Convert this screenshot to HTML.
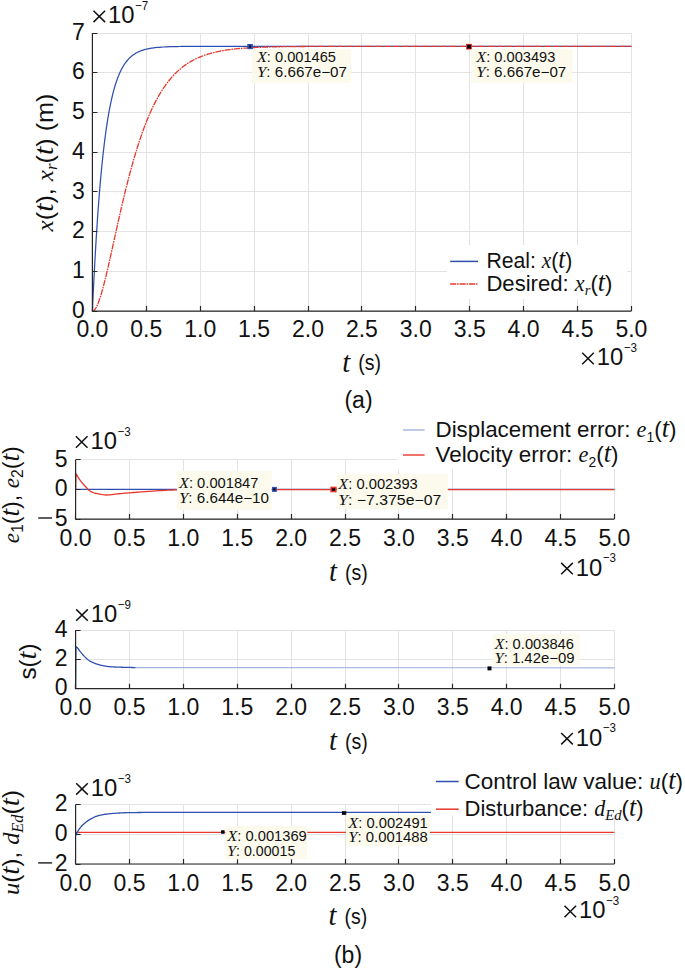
<!DOCTYPE html>
<html><head><meta charset="utf-8"><style>html,body{margin:0;padding:0;background:#fff;width:685px;height:968px;overflow:hidden}</style></head>
<body>
<svg width="685" height="968" viewBox="0 0 685 968" style="position:absolute;left:0;top:0">
<rect width="685" height="968" fill="#fff"/>
<path d="M92.5 33.1V311.1M146.5 33.1V311.1M200.5 33.1V311.1M254.5 33.1V311.1M308.5 33.1V311.1M361.5 33.1V311.1M415.5 33.1V311.1M469.5 33.1V311.1M523.5 33.1V311.1M577.5 33.1V311.1M631.5 33.1V311.1M92.4 311.5H631.4M92.4 271.5H631.4M92.4 231.5H631.4M92.4 191.5H631.4M92.4 152.5H631.4M92.4 112.5H631.4M92.4 72.5H631.4M92.4 33.5H631.4" stroke="#e3e3e3" stroke-width="1" fill="none"/>
<path d="M92.4 311.1 L92.8 302.29 L93.21 293.77 L93.61 285.54 L94.01 277.58 L94.41 269.89 L94.82 262.45 L95.22 255.26 L95.62 248.3 L96.02 241.58 L96.43 235.09 L96.83 228.81 L97.23 222.74 L97.63 216.87 L98.04 211.19 L98.44 205.71 L98.84 200.4 L99.25 195.28 L99.65 190.32 L100.05 185.53 L100.45 180.9 L100.86 176.42 L101.26 172.09 L101.66 167.91 L102.06 163.86 L102.47 159.95 L102.87 156.17 L103.27 152.51 L103.68 148.98 L104.08 145.57 L104.48 142.26 L104.88 139.07 L105.29 135.99 L105.69 133 L106.09 130.12 L106.49 127.33 L106.9 124.63 L107.3 122.03 L107.7 119.51 L108.1 117.08 L108.51 114.72 L108.91 112.45 L109.31 110.25 L109.72 108.12 L110.12 106.06 L110.52 104.07 L110.92 102.15 L111.33 100.3 L111.73 98.5 L112.13 96.76 L112.53 95.09 L112.94 93.46 L113.34 91.89 L113.74 90.38 L114.14 88.91 L114.55 87.5 L114.95 86.13 L115.35 84.8 L115.76 83.52 L116.16 82.28 L116.56 81.09 L116.96 79.93 L117.37 78.81 L117.77 77.73 L118.17 76.69 L118.57 75.68 L118.98 74.7 L119.38 73.76 L119.78 72.84 L120.19 71.96 L120.59 71.11 L120.99 70.28 L121.39 69.49 L121.8 68.72 L122.2 67.97 L122.6 67.25 L123 66.55 L123.41 65.88 L123.81 65.23 L124.21 64.6 L124.61 63.99 L125.02 63.41 L125.42 62.84 L125.82 62.29 L126.23 61.76 L126.63 61.24 L127.03 60.75 L127.43 60.27 L127.84 59.8 L128.24 59.35 L128.64 58.92 L129.04 58.5 L129.45 58.1 L129.85 57.7 L130.25 57.33 L130.66 56.96 L131.06 56.61 L131.46 56.26 L131.86 55.93 L132.27 55.61 L132.67 55.3 L133.07 55.01 L133.47 54.72 L133.88 54.44 L134.28 54.17 L134.68 53.91 L135.08 53.65 L135.49 53.41 L135.89 53.17 L136.29 52.95 L136.7 52.73 L137.1 52.51 L137.5 52.31 L137.9 52.11 L138.31 51.92 L138.71 51.73 L139.11 51.55 L139.51 51.38 L139.92 51.21 L140.32 51.05 L140.72 50.89 L141.12 50.74 L141.53 50.59 L141.93 50.45 L142.33 50.31 L142.74 50.18 L143.14 50.05 L143.54 49.93 L143.94 49.81 L144.35 49.69 L144.75 49.58 L145.15 49.47 L145.55 49.37 L145.96 49.26 L146.36 49.17 L146.76 49.07 L147.17 48.98 L147.57 48.89 L147.97 48.81 L148.37 48.72 L148.78 48.64 L149.18 48.57 L149.58 48.49 L149.98 48.42 L150.39 48.35 L150.79 48.28 L151.19 48.22 L151.59 48.16 L152 48.09 L152.4 48.04 L153.4 47.9 L155.41 47.65 L157.42 47.45 L159.43 47.27 L161.44 47.13 L163.45 47 L165.46 46.9 L167.47 46.81 L169.48 46.73 L171.49 46.67 L173.5 46.62 L175.51 46.57 L177.52 46.53 L179.53 46.5 L181.54 46.47 L183.55 46.45 L185.56 46.43 L187.57 46.41 L189.58 46.4 L191.59 46.39 L193.6 46.38 L195.61 46.37 L197.62 46.36 L199.63 46.36 L201.64 46.35 L203.65 46.35 L205.66 46.34 L207.67 46.34 L209.68 46.34 L211.69 46.34 L213.7 46.33 L215.71 46.33 L217.72 46.33 L219.73 46.33 L221.74 46.33 L223.75 46.33 L225.76 46.33 L227.77 46.33 L229.78 46.33 L231.79 46.33 L233.8 46.33 L235.81 46.33 L237.82 46.33 L239.83 46.33 L241.84 46.33 L243.85 46.33 L245.86 46.33 L247.87 46.33 L249.88 46.33 L251.89 46.33 L253.91 46.33 L255.92 46.33 L257.93 46.33 L259.94 46.33 L261.95 46.33 L263.96 46.33 L265.97 46.32 L267.98 46.32 L269.99 46.32 L272 46.32 L274.01 46.32 L276.02 46.32 L278.03 46.32 L280.04 46.32 L282.05 46.32 L284.06 46.32 L286.07 46.32 L288.08 46.32 L290.09 46.32 L292.1 46.32 L294.11 46.32 L296.12 46.32 L298.13 46.32 L300.14 46.32 L302.15 46.32 L304.16 46.32 L306.17 46.32 L308.18 46.32 L310.19 46.32 L312.2 46.32 L314.21 46.32 L316.22 46.32 L318.23 46.32 L320.24 46.32 L322.25 46.32 L324.26 46.32 L326.27 46.32 L328.28 46.32 L330.29 46.32 L332.3 46.32 L334.31 46.32 L336.32 46.32 L338.33 46.32 L340.34 46.32 L342.35 46.32 L344.36 46.32 L346.37 46.32 L348.38 46.32 L350.39 46.32 L352.4 46.32 L631.4 46.32" stroke="#2f4fb0" stroke-width="1.25" fill="none" stroke-linejoin="round" />
<path d="M92.4 311.1 L92.8 311.05 L93.21 310.92 L93.61 310.7 L94.01 310.39 L94.41 310.01 L94.82 309.55 L95.22 309.01 L95.62 308.41 L96.02 307.74 L96.43 307 L96.83 306.2 L97.23 305.33 L97.63 304.42 L98.04 303.44 L98.44 302.42 L98.84 301.34 L99.25 300.21 L99.65 299.04 L100.05 297.83 L100.45 296.57 L100.86 295.27 L101.26 293.94 L101.66 292.57 L102.06 291.16 L102.47 289.72 L102.87 288.26 L103.27 286.76 L103.68 285.23 L104.08 283.68 L104.48 282.1 L104.88 280.5 L105.29 278.88 L105.69 277.24 L106.09 275.58 L106.49 273.9 L106.9 272.2 L107.3 270.49 L107.7 268.77 L108.1 267.03 L108.51 265.28 L108.91 263.51 L109.31 261.74 L109.72 259.96 L110.12 258.17 L110.52 256.38 L110.92 254.57 L111.33 252.77 L111.73 250.95 L112.13 249.14 L112.53 247.32 L112.94 245.5 L113.34 243.67 L113.74 241.85 L114.14 240.03 L114.55 238.2 L114.95 236.38 L115.35 234.56 L115.76 232.74 L116.16 230.92 L116.56 229.11 L116.96 227.3 L117.37 225.49 L117.77 223.69 L118.17 221.9 L118.57 220.11 L118.98 218.32 L119.38 216.55 L119.78 214.78 L120.19 213.01 L120.59 211.26 L120.99 209.51 L121.39 207.77 L121.8 206.03 L122.2 204.31 L122.6 202.6 L123 200.89 L123.41 199.2 L123.81 197.51 L124.21 195.83 L124.61 194.17 L125.02 192.51 L125.42 190.87 L125.82 189.23 L126.23 187.61 L126.63 186 L127.03 184.4 L127.43 182.81 L127.84 181.23 L128.24 179.66 L128.64 178.11 L129.04 176.56 L129.45 175.03 L129.85 173.51 L130.25 172.01 L130.66 170.51 L131.06 169.03 L131.46 167.56 L131.86 166.1 L132.27 164.65 L132.67 163.22 L133.07 161.8 L133.47 160.39 L133.88 158.99 L134.28 157.61 L134.68 156.24 L135.08 154.88 L135.49 153.53 L135.89 152.2 L136.29 150.88 L136.7 149.57 L137.1 148.28 L137.5 146.99 L137.9 145.72 L138.31 144.47 L138.71 143.22 L139.11 141.99 L139.51 140.77 L139.92 139.56 L140.32 138.36 L140.72 137.18 L141.12 136.01 L141.53 134.85 L141.93 133.7 L142.33 132.56 L142.74 131.44 L143.14 130.33 L143.54 129.23 L143.94 128.14 L144.35 127.07 L144.75 126 L145.15 124.95 L145.55 123.91 L145.96 122.88 L146.36 121.87 L146.76 120.86 L147.17 119.86 L147.57 118.88 L147.97 117.91 L148.37 116.95 L148.78 116 L149.18 115.06 L149.58 114.13 L149.98 113.21 L150.39 112.31 L150.79 111.41 L151.19 110.52 L151.59 109.65 L152 108.78 L152.4 107.93 L153.4 105.85 L155.41 101.86 L157.42 98.11 L159.43 94.58 L161.44 91.27 L163.45 88.17 L165.46 85.26 L167.47 82.54 L169.48 79.99 L171.49 77.61 L173.5 75.39 L175.51 73.31 L177.52 71.38 L179.53 69.57 L181.54 67.89 L183.55 66.32 L185.56 64.86 L187.57 63.5 L189.58 62.24 L191.59 61.06 L193.6 59.97 L195.61 58.96 L197.62 58.02 L199.63 57.14 L201.64 56.33 L203.65 55.58 L205.66 54.88 L207.67 54.23 L209.68 53.63 L211.69 53.08 L213.7 52.56 L215.71 52.08 L217.72 51.64 L219.73 51.23 L221.74 50.86 L223.75 50.51 L225.76 50.18 L227.77 49.89 L229.78 49.61 L231.79 49.35 L233.8 49.12 L235.81 48.9 L237.82 48.7 L239.83 48.51 L241.84 48.34 L243.85 48.18 L245.86 48.04 L247.87 47.9 L249.88 47.78 L251.89 47.66 L253.91 47.56 L255.92 47.46 L257.93 47.37 L259.94 47.29 L261.95 47.21 L263.96 47.14 L265.97 47.07 L267.98 47.01 L269.99 46.96 L272 46.91 L274.01 46.86 L276.02 46.82 L278.03 46.78 L280.04 46.74 L282.05 46.71 L284.06 46.68 L286.07 46.65 L288.08 46.62 L290.09 46.6 L292.1 46.58 L294.11 46.56 L296.12 46.54 L298.13 46.52 L300.14 46.5 L302.15 46.49 L304.16 46.48 L306.17 46.46 L308.18 46.45 L310.19 46.44 L312.2 46.43 L314.21 46.42 L316.22 46.42 L318.23 46.41 L320.24 46.4 L322.25 46.4 L324.26 46.39 L326.27 46.38 L328.28 46.38 L330.29 46.37 L332.3 46.37 L334.31 46.37 L336.32 46.36 L338.33 46.36 L340.34 46.36 L342.35 46.35 L344.36 46.35 L346.37 46.35 L348.38 46.35 L350.39 46.35 L352.4 46.34 L631.4 46.32" stroke="#e8372b" stroke-width="1.3" fill="none" stroke-linejoin="round" stroke-dasharray="6 0.9 1.6 0.9"/>
<path d="M92.4 33.1V311.1H631.4M92.5 311.1v-5M146.5 311.1v-5M200.5 311.1v-5M254.5 311.1v-5M308.5 311.1v-5M361.5 311.1v-5M415.5 311.1v-5M469.5 311.1v-5M523.5 311.1v-5M577.5 311.1v-5M631.5 311.1v-5M92.4 311.5h5M92.4 271.5h5M92.4 231.5h5M92.4 191.5h5M92.4 152.5h5M92.4 112.5h5M92.4 72.5h5M92.4 33.5h5" stroke="#262626" stroke-width="1.2" fill="none"/>
<text x="92.4" y="336.8" font-size="23" text-anchor="middle" font-family='"Liberation Sans", sans-serif' fill="#111" >0.0</text>
<text x="146.3" y="336.8" font-size="23" text-anchor="middle" font-family='"Liberation Sans", sans-serif' fill="#111" >0.5</text>
<text x="200.2" y="336.8" font-size="23" text-anchor="middle" font-family='"Liberation Sans", sans-serif' fill="#111" >1.0</text>
<text x="254.1" y="336.8" font-size="23" text-anchor="middle" font-family='"Liberation Sans", sans-serif' fill="#111" >1.5</text>
<text x="308" y="336.8" font-size="23" text-anchor="middle" font-family='"Liberation Sans", sans-serif' fill="#111" >2.0</text>
<text x="361.9" y="336.8" font-size="23" text-anchor="middle" font-family='"Liberation Sans", sans-serif' fill="#111" >2.5</text>
<text x="415.8" y="336.8" font-size="23" text-anchor="middle" font-family='"Liberation Sans", sans-serif' fill="#111" >3.0</text>
<text x="469.7" y="336.8" font-size="23" text-anchor="middle" font-family='"Liberation Sans", sans-serif' fill="#111" >3.5</text>
<text x="523.6" y="336.8" font-size="23" text-anchor="middle" font-family='"Liberation Sans", sans-serif' fill="#111" >4.0</text>
<text x="577.5" y="336.8" font-size="23" text-anchor="middle" font-family='"Liberation Sans", sans-serif' fill="#111" >4.5</text>
<text x="631.4" y="336.8" font-size="23" text-anchor="middle" font-family='"Liberation Sans", sans-serif' fill="#111" >5.0</text>
<text x="84.8" y="317.7" font-size="23" text-anchor="end" font-family='"Liberation Sans", sans-serif' fill="#111" >0</text>
<text x="84.8" y="277.99" font-size="23" text-anchor="end" font-family='"Liberation Sans", sans-serif' fill="#111" >1</text>
<text x="84.8" y="238.27" font-size="23" text-anchor="end" font-family='"Liberation Sans", sans-serif' fill="#111" >2</text>
<text x="84.8" y="198.56" font-size="23" text-anchor="end" font-family='"Liberation Sans", sans-serif' fill="#111" >3</text>
<text x="84.8" y="158.84" font-size="23" text-anchor="end" font-family='"Liberation Sans", sans-serif' fill="#111" >4</text>
<text x="84.8" y="119.13" font-size="23" text-anchor="end" font-family='"Liberation Sans", sans-serif' fill="#111" >5</text>
<text x="84.8" y="79.41" font-size="23" text-anchor="end" font-family='"Liberation Sans", sans-serif' fill="#111" >6</text>
<text x="84.8" y="39.7" font-size="23" text-anchor="end" font-family='"Liberation Sans", sans-serif' fill="#111" >7</text>
<path d="M93.5 10.7L105.1 22.1M105.1 10.7L93.5 22.1" stroke="#111" stroke-width="1.5"/>
<text x="108.1" y="23.3" font-size="23" font-family='"Liberation Sans", sans-serif' fill="#111" textLength="26.5" lengthAdjust="spacingAndGlyphs">10</text>
<text x="135.1" y="10.1" font-size="12.6" font-family='"Liberation Sans", sans-serif' fill="#111" textLength="13.2" lengthAdjust="spacingAndGlyphs">−7</text>
<path d="M582.2 352.8L593.8 364.2M593.8 352.8L582.2 364.2" stroke="#111" stroke-width="1.5"/>
<text x="596.8" y="365.4" font-size="23" font-family='"Liberation Sans", sans-serif' fill="#111" textLength="26.5" lengthAdjust="spacingAndGlyphs">10</text>
<text x="623.8" y="352.2" font-size="12.6" font-family='"Liberation Sans", sans-serif' fill="#111" textLength="13.2" lengthAdjust="spacingAndGlyphs">−3</text>
<text x="342.3" y="371.7" font-size="28.5" font-family='"Liberation Serif", serif' font-style="italic" fill="#111">t</text>
<text x="358.2" y="370.4" font-size="22.5" font-family='"Liberation Sans", sans-serif' fill="#111" textLength="22.8" lengthAdjust="spacingAndGlyphs">(s)</text>
<text x="358.5" y="408" font-size="23" text-anchor="middle" font-family='"Liberation Sans", sans-serif' fill="#111" >(a)</text>
<rect x="447" y="245" width="180" height="54" fill="#fff"/>
<path d="M450.2 261.4H478" stroke="#2f4fb0" stroke-width="1.5"/>
<path d="M450.2 284H478" stroke="#e8372b" stroke-width="1.3" stroke-dasharray="6 0.9 1.6 0.9"/>
<text x="486.4" y="267.5" font-size="22.5" text-anchor="start" font-family='"Liberation Sans", sans-serif' fill="#111" textLength="86" lengthAdjust="spacingAndGlyphs">Real: <tspan font-family='"Liberation Serif", serif' font-style="italic">x</tspan>(<tspan font-family='"Liberation Serif", serif' font-style="italic" font-size="118%">t</tspan>)</text>
<text x="486.4" y="290.9" font-size="22.5" text-anchor="start" font-family='"Liberation Sans", sans-serif' fill="#111" textLength="126" lengthAdjust="spacingAndGlyphs">Desired: <tspan font-family='"Liberation Serif", serif' font-style="italic">x</tspan><tspan font-size="15" dy="4" font-family='"Liberation Serif", serif' font-style="italic">r</tspan><tspan dy="-4">(</tspan><tspan font-family='"Liberation Serif", serif' font-style="italic" font-size="118%">t</tspan>)</text>
<text transform="translate(52.5,162.5) rotate(-90)" font-size="24" text-anchor="middle" font-family='"Liberation Sans", sans-serif' fill="#111" textLength="138" lengthAdjust="spacingAndGlyphs"><tspan font-family='"Liberation Serif", serif' font-style="italic">x</tspan>(<tspan font-family='"Liberation Serif", serif' font-style="italic" font-size="118%">t</tspan>), <tspan font-family='"Liberation Serif", serif' font-style="italic">x</tspan><tspan font-size="16" dy="4" font-family='"Liberation Serif", serif' font-style="italic">r</tspan><tspan dy="-4">(</tspan><tspan font-family='"Liberation Serif", serif' font-style="italic" font-size="118%">t</tspan>) (m)</text>
<rect x="247.3" y="44" width="5.6" height="5.2" fill="#2f4fb0"/>
<rect x="249.3" y="45.3" width="1.6" height="2.6" fill="#000"/>
<rect x="251.8" y="49.1" width="99.4" height="33.7" fill="#fcfaec"/>
<text x="257" y="62.1" font-size="14" font-family='"Liberation Sans", sans-serif' fill="#111" textLength="79" lengthAdjust="spacingAndGlyphs"><tspan font-size="15.5"><tspan font-family='"Liberation Serif", serif' font-style="italic">X</tspan></tspan>: 0.001465</text>
<text x="257" y="77.4" font-size="14" font-family='"Liberation Sans", sans-serif' fill="#111" textLength="90" lengthAdjust="spacingAndGlyphs"><tspan font-size="15.5"><tspan font-family='"Liberation Serif", serif' font-style="italic">Y</tspan></tspan>: 6.667e−07</text>
<rect x="466" y="43.85" width="6" height="5.7" fill="#e8372b"/>
<rect x="467" y="44.8" width="4" height="3.8" fill="#000"/>
<rect x="471.1" y="49.1" width="101.3" height="33.7" fill="#fcfaec"/>
<text x="476.3" y="62.1" font-size="14" font-family='"Liberation Sans", sans-serif' fill="#111" textLength="79" lengthAdjust="spacingAndGlyphs"><tspan font-size="15.5"><tspan font-family='"Liberation Serif", serif' font-style="italic">X</tspan></tspan>: 0.003493</text>
<text x="476.3" y="77.4" font-size="14" font-family='"Liberation Sans", sans-serif' fill="#111" textLength="90" lengthAdjust="spacingAndGlyphs"><tspan font-size="15.5"><tspan font-family='"Liberation Serif", serif' font-style="italic">Y</tspan></tspan>: 6.667e−07</text>
<path d="M75.5 459.7V519.1M129.5 459.7V519.1M183.5 459.7V519.1M237.5 459.7V519.1M291.5 459.7V519.1M345.5 459.7V519.1M398.5 459.7V519.1M452.5 459.7V519.1M506.5 459.7V519.1M560.5 459.7V519.1M614.5 459.7V519.1M75.6 519.5H614.4M75.6 489.5H614.4M75.6 459.5H614.4" stroke="#e3e3e3" stroke-width="1" fill="none"/>
<path d="M75.6 489.3 L614.4 489.3" stroke="#2f4fb0" stroke-width="1.2" fill="none" stroke-linejoin="round" />
<path d="M75.6 489.3 L75.9 473.5 L77.7 476.62 L79.5 479.44 L81.3 481.87 L83.1 484.01 L84.91 485.99 L86.71 487.92 L88.51 489.99 L90.31 491.29 L92.11 492.12 L93.91 492.76 L95.71 493.25 L97.51 493.65 L99.31 494.03 L101.11 494.39 L102.92 494.68 L104.72 494.89 L106.52 494.99 L108.32 494.97 L110.12 494.87 L111.92 494.69 L113.72 494.47 L115.52 494.22 L117.32 493.97 L119.12 493.74 L120.93 493.54 L122.73 493.37 L124.53 493.22 L126.33 493.07 L128.13 492.92 L129.93 492.78 L131.73 492.64 L133.53 492.5 L135.33 492.37 L137.13 492.23 L138.94 492.1 L140.74 491.97 L142.54 491.84 L144.34 491.71 L146.14 491.57 L147.94 491.44 L149.74 491.3 L151.54 491.17 L153.34 491.05 L155.14 490.92 L156.95 490.8 L158.75 490.69 L160.55 490.59 L162.35 490.49 L164.15 490.4 L165.95 490.31 L167.75 490.22 L169.55 490.14 L171.35 490.06 L173.15 489.99 L174.96 489.94 L176.76 489.89 L178.56 489.86 L180.36 489.82 L182.16 489.79 L183.96 489.76 L185.76 489.73 L187.56 489.7 L189.36 489.67 L191.16 489.65 L192.97 489.63 L194.77 489.62 L196.57 489.61 L198.37 489.6 L200.17 489.6 L201.97 489.6 L203.77 489.6 L205.57 489.6 L207.37 489.6 L209.17 489.6 L210.98 489.6 L212.78 489.6 L214.58 489.6 L216.38 489.6 L218.18 489.6 L219.98 489.6 L221.78 489.6 L223.58 489.6 L225.38 489.6 L227.18 489.6 L228.99 489.6 L230.79 489.6 L232.59 489.6 L234.39 489.6 L236.19 489.6 L237.99 489.6 L239.79 489.6 L241.59 489.6 L243.39 489.6 L245.19 489.6 L247 489.6 L248.8 489.6 L250.6 489.6 L252.4 489.6 L254.2 489.6 L256 489.6 L257.8 489.6 L259.6 489.6 L261.4 489.6 L263.2 489.6 L265.01 489.6 L266.81 489.6 L268.61 489.6 L270.41 489.6 L272.21 489.6 L274.01 489.6 L275.81 489.6 L277.61 489.6 L279.41 489.6 L281.21 489.6 L283.02 489.6 L284.82 489.6 L286.62 489.6 L288.42 489.6 L290.22 489.6 L292.02 489.6 L293.82 489.6 L295.62 489.6 L297.42 489.6 L299.22 489.6 L301.03 489.6 L302.83 489.6 L304.63 489.6 L306.43 489.6 L308.23 489.6 L310.03 489.6 L311.83 489.6 L313.63 489.6 L315.43 489.6 L317.23 489.6 L319.04 489.6 L320.84 489.6 L322.64 489.6 L324.44 489.6 L326.24 489.6 L328.04 489.6 L329.84 489.6 L331.64 489.6 L333.44 489.6 L335.24 489.6 L337.05 489.6 L338.85 489.6 L340.65 489.6 L342.45 489.6 L344.25 489.6 L346.05 489.6 L347.85 489.6 L349.65 489.6 L351.45 489.6 L353.25 489.6 L355.06 489.6 L356.86 489.6 L358.66 489.6 L360.46 489.6 L362.26 489.6 L364.06 489.6 L365.86 489.6 L367.66 489.6 L369.46 489.6 L371.26 489.6 L373.07 489.6 L374.87 489.6 L376.67 489.6 L378.47 489.6 L380.27 489.6 L382.07 489.6 L383.87 489.6 L385.67 489.6 L387.47 489.6 L389.27 489.6 L391.08 489.6 L392.88 489.6 L394.68 489.6 L396.48 489.6 L398.28 489.6 L400.08 489.6 L401.88 489.6 L403.68 489.6 L405.48 489.6 L407.28 489.6 L409.09 489.6 L410.89 489.6 L412.69 489.6 L414.49 489.6 L416.29 489.6 L418.09 489.6 L419.89 489.6 L421.69 489.6 L423.49 489.6 L425.29 489.6 L427.1 489.6 L428.9 489.6 L430.7 489.6 L432.5 489.6 L434.3 489.6 L436.1 489.6 L437.9 489.6 L439.7 489.6 L441.5 489.6 L443.3 489.6 L445.11 489.6 L446.91 489.6 L448.71 489.6 L450.51 489.6 L452.31 489.6 L454.11 489.6 L455.91 489.6 L457.71 489.6 L459.51 489.6 L461.31 489.6 L463.12 489.6 L464.92 489.6 L466.72 489.6 L468.52 489.6 L470.32 489.6 L472.12 489.6 L473.92 489.6 L475.72 489.6 L477.52 489.6 L479.32 489.6 L481.13 489.6 L482.93 489.6 L484.73 489.6 L486.53 489.6 L488.33 489.6 L490.13 489.6 L491.93 489.6 L493.73 489.6 L495.53 489.6 L497.33 489.6 L499.14 489.6 L500.94 489.6 L502.74 489.6 L504.54 489.6 L506.34 489.6 L508.14 489.6 L509.94 489.6 L511.74 489.6 L513.54 489.6 L515.34 489.6 L517.15 489.6 L518.95 489.6 L520.75 489.6 L522.55 489.6 L524.35 489.6 L526.15 489.6 L527.95 489.6 L529.75 489.6 L531.55 489.6 L533.35 489.6 L535.16 489.6 L536.96 489.6 L538.76 489.6 L540.56 489.6 L542.36 489.6 L544.16 489.6 L545.96 489.6 L547.76 489.6 L549.56 489.6 L551.36 489.6 L553.17 489.6 L554.97 489.6 L556.77 489.6 L558.57 489.6 L560.37 489.6 L562.17 489.6 L563.97 489.6 L565.77 489.6 L567.57 489.6 L569.37 489.6 L571.18 489.6 L572.98 489.6 L574.78 489.6 L576.58 489.6 L578.38 489.6 L580.18 489.6 L581.98 489.6 L583.78 489.6 L585.58 489.6 L587.38 489.6 L589.19 489.6 L590.99 489.6 L592.79 489.6 L594.59 489.6 L596.39 489.6 L598.19 489.6 L599.99 489.6 L601.79 489.6 L603.59 489.6 L605.39 489.6 L607.2 489.6 L609 489.6 L610.8 489.6 L612.6 489.6 L614.4 489.6" stroke="#e8372b" stroke-width="1.3" fill="none" stroke-linejoin="round" />
<path d="M75.6 459.7V519.1H614.4M75.5 519.1v-5M129.5 519.1v-5M183.5 519.1v-5M237.5 519.1v-5M291.5 519.1v-5M345.5 519.1v-5M398.5 519.1v-5M452.5 519.1v-5M506.5 519.1v-5M560.5 519.1v-5M614.5 519.1v-5M75.6 519.5h5M75.6 489.5h5M75.6 459.5h5" stroke="#262626" stroke-width="1.2" fill="none"/>
<text x="75.6" y="545.8" font-size="23" text-anchor="middle" font-family='"Liberation Sans", sans-serif' fill="#111" >0.0</text>
<text x="129.48" y="545.8" font-size="23" text-anchor="middle" font-family='"Liberation Sans", sans-serif' fill="#111" >0.5</text>
<text x="183.36" y="545.8" font-size="23" text-anchor="middle" font-family='"Liberation Sans", sans-serif' fill="#111" >1.0</text>
<text x="237.24" y="545.8" font-size="23" text-anchor="middle" font-family='"Liberation Sans", sans-serif' fill="#111" >1.5</text>
<text x="291.12" y="545.8" font-size="23" text-anchor="middle" font-family='"Liberation Sans", sans-serif' fill="#111" >2.0</text>
<text x="345" y="545.8" font-size="23" text-anchor="middle" font-family='"Liberation Sans", sans-serif' fill="#111" >2.5</text>
<text x="398.88" y="545.8" font-size="23" text-anchor="middle" font-family='"Liberation Sans", sans-serif' fill="#111" >3.0</text>
<text x="452.76" y="545.8" font-size="23" text-anchor="middle" font-family='"Liberation Sans", sans-serif' fill="#111" >3.5</text>
<text x="506.64" y="545.8" font-size="23" text-anchor="middle" font-family='"Liberation Sans", sans-serif' fill="#111" >4.0</text>
<text x="560.52" y="545.8" font-size="23" text-anchor="middle" font-family='"Liberation Sans", sans-serif' fill="#111" >4.5</text>
<text x="614.4" y="545.8" font-size="23" text-anchor="middle" font-family='"Liberation Sans", sans-serif' fill="#111" >5.0</text>
<path d="M38.2 518h13.9" stroke="#111" stroke-width="1.35"/>
<text x="67.5" y="526.1" font-size="23" text-anchor="end" font-family='"Liberation Sans", sans-serif' fill="#111" >5</text>
<text x="67.5" y="496.4" font-size="23" text-anchor="end" font-family='"Liberation Sans", sans-serif' fill="#111" >0</text>
<text x="67.5" y="466.7" font-size="23" text-anchor="end" font-family='"Liberation Sans", sans-serif' fill="#111" >5</text>
<path d="M75.9 436.3L87.5 447.7M87.5 436.3L75.9 447.7" stroke="#111" stroke-width="1.5"/>
<text x="90.5" y="448.9" font-size="23" font-family='"Liberation Sans", sans-serif' fill="#111" textLength="26.5" lengthAdjust="spacingAndGlyphs">10</text>
<text x="117.5" y="435.7" font-size="12.6" font-family='"Liberation Sans", sans-serif' fill="#111" textLength="13.2" lengthAdjust="spacingAndGlyphs">−3</text>
<path d="M561.2 562.9L572.8 574.3M572.8 562.9L561.2 574.3" stroke="#111" stroke-width="1.5"/>
<text x="575.8" y="575.5" font-size="23" font-family='"Liberation Sans", sans-serif' fill="#111" textLength="26.5" lengthAdjust="spacingAndGlyphs">10</text>
<text x="602.8" y="562.3" font-size="12.6" font-family='"Liberation Sans", sans-serif' fill="#111" textLength="13.2" lengthAdjust="spacingAndGlyphs">−3</text>
<text x="329" y="581.3" font-size="28.5" font-family='"Liberation Serif", serif' font-style="italic" fill="#111">t</text>
<text x="344.9" y="580" font-size="22.5" font-family='"Liberation Sans", sans-serif' fill="#111" textLength="22.8" lengthAdjust="spacingAndGlyphs">(s)</text>
<rect x="397.5" y="412" width="290" height="57" fill="#fff"/>
<path d="M403 430H424.6" stroke="#a3b3e0" stroke-width="1.4"/>
<path d="M403 455H424.6" stroke="#e8372b" stroke-width="1.4"/>
<text x="435.5" y="437.4" font-size="22.5" text-anchor="start" font-family='"Liberation Sans", sans-serif' fill="#111" textLength="241" lengthAdjust="spacingAndGlyphs">Displacement error: <tspan font-family='"Liberation Serif", serif' font-style="italic">e</tspan><tspan font-size="14" dy="4.5">1</tspan><tspan dy="-4.5">(</tspan><tspan font-family='"Liberation Serif", serif' font-style="italic" font-size="118%">t</tspan>)</text>
<text x="435.5" y="462.1" font-size="22.5" text-anchor="start" font-family='"Liberation Sans", sans-serif' fill="#111" textLength="183" lengthAdjust="spacingAndGlyphs">Velocity error: <tspan font-family='"Liberation Serif", serif' font-style="italic">e</tspan><tspan font-size="14" dy="4.5">2</tspan><tspan dy="-4.5">(</tspan><tspan font-family='"Liberation Serif", serif' font-style="italic" font-size="118%">t</tspan>)</text>
<text transform="translate(18.5,494.7) rotate(-90)" font-size="24" text-anchor="middle" font-family='"Liberation Sans", sans-serif' fill="#111" textLength="97" lengthAdjust="spacingAndGlyphs"><tspan font-family='"Liberation Serif", serif' font-style="italic">e</tspan><tspan font-size="16" dy="4">1</tspan><tspan dy="-4">(</tspan><tspan font-family='"Liberation Serif", serif' font-style="italic" font-size="118%">t</tspan>), <tspan font-family='"Liberation Serif", serif' font-style="italic">e</tspan><tspan font-size="16" dy="4">2</tspan><tspan dy="-4">(</tspan><tspan font-family='"Liberation Serif", serif' font-style="italic" font-size="118%">t</tspan>)</text>
<rect x="271.9" y="486.9" width="5" height="5" fill="#2f4fb0"/>
<rect x="273.4" y="488.4" width="2" height="2" fill="#000"/>
<rect x="177" y="471" width="94.6" height="38.9" fill="#fcfaec"/>
<text x="179" y="487.6" font-size="14" font-family='"Liberation Sans", sans-serif' fill="#111" textLength="79.5" lengthAdjust="spacingAndGlyphs"><tspan font-size="15.5"><tspan font-family='"Liberation Serif", serif' font-style="italic">X</tspan></tspan>: 0.001847</text>
<text x="179" y="503.4" font-size="14" font-family='"Liberation Sans", sans-serif' fill="#111" textLength="90" lengthAdjust="spacingAndGlyphs"><tspan font-size="15.5"><tspan font-family='"Liberation Serif", serif' font-style="italic">Y</tspan></tspan>: 6.644e−10</text>
<rect x="330.4" y="486.65" width="6.2" height="5.7" fill="#e8372b"/>
<rect x="331.75" y="488.25" width="3.5" height="2.5" fill="#000"/>
<rect x="337" y="473.9" width="110.8" height="35" fill="#fcfaec"/>
<text x="338.3" y="488.8" font-size="14" font-family='"Liberation Sans", sans-serif' fill="#111" textLength="79.5" lengthAdjust="spacingAndGlyphs"><tspan font-size="15.5"><tspan font-family='"Liberation Serif", serif' font-style="italic">X</tspan></tspan>: 0.002393</text>
<text x="338.3" y="504.5" font-size="14" font-family='"Liberation Sans", sans-serif' fill="#111" textLength="103" lengthAdjust="spacingAndGlyphs"><tspan font-size="15.5"><tspan font-family='"Liberation Serif", serif' font-style="italic">Y</tspan></tspan>: −7.375e−07</text>
<path d="M75.5 630.2V688.7M129.5 630.2V688.7M183.5 630.2V688.7M237.5 630.2V688.7M291.5 630.2V688.7M345.5 630.2V688.7M398.5 630.2V688.7M452.5 630.2V688.7M506.5 630.2V688.7M560.5 630.2V688.7M614.5 630.2V688.7M75.6 688.5H614.4M75.6 659.5H614.4M75.6 630.5H614.4" stroke="#e3e3e3" stroke-width="1" fill="none"/>
<path d="M75.6 688.7 L75.9 646.6 L76.3 646.83 L76.7 647.14 L77.1 647.53 L77.51 647.97 L77.91 648.45 L78.31 648.97 L78.71 649.51 L79.11 650.07 L79.51 650.63 L79.91 651.18 L80.31 651.7 L80.72 652.2 L81.12 652.67 L81.52 653.14 L81.92 653.62 L82.32 654.09 L82.72 654.55 L83.12 655.01 L83.53 655.46 L83.93 655.9 L84.33 656.33 L84.73 656.74 L85.13 657.13 L85.53 657.51 L85.93 657.89 L86.33 658.27 L86.74 658.63 L87.14 658.99 L87.54 659.34 L87.94 659.67 L88.34 659.99 L88.74 660.29 L89.14 660.57 L89.55 660.83 L89.95 661.07 L90.35 661.31 L90.75 661.53 L91.15 661.74 L91.55 661.95 L91.95 662.15 L92.36 662.33 L92.76 662.52 L93.16 662.69 L93.56 662.86 L93.96 663.02 L94.36 663.18 L94.76 663.34 L95.16 663.49 L95.57 663.63 L95.97 663.77 L96.37 663.9 L96.77 664.03 L97.17 664.16 L97.57 664.29 L97.97 664.4 L98.38 664.52 L98.78 664.64 L99.18 664.75 L99.58 664.86 L99.98 664.97 L100.38 665.07 L100.78 665.17 L101.18 665.27 L101.59 665.36 L101.99 665.45 L102.39 665.54 L102.79 665.62 L103.19 665.7 L103.59 665.78 L103.99 665.85 L104.4 665.93 L104.8 666.01 L105.2 666.08 L105.6 666.15 L106 666.22 L106.4 666.29 L106.8 666.35 L107.2 666.41 L107.61 666.47 L108.01 666.53 L108.41 666.57 L108.81 666.62 L109.21 666.66 L109.61 666.69 L110.01 666.72 L110.42 666.75 L110.82 666.78 L111.22 666.81 L111.62 666.83 L112.02 666.86 L112.42 666.88 L112.82 666.9 L113.22 666.92 L113.63 666.94 L114.03 666.96 L114.43 666.98 L114.83 667 L115.23 667.02 L115.63 667.03 L116.03 667.05 L116.44 667.07 L116.84 667.08 L117.24 667.1 L117.64 667.11 L118.04 667.13 L118.44 667.14 L118.84 667.15 L119.24 667.17 L119.65 667.18 L120.05 667.19 L120.45 667.21 L120.85 667.22 L121.25 667.23 L121.65 667.25 L122.05 667.26 L122.46 667.27 L122.86 667.28 L123.26 667.29 L123.66 667.3 L124.06 667.31 L124.46 667.32 L124.86 667.33 L125.27 667.34 L125.67 667.35 L126.07 667.36 L126.47 667.37 L126.87 667.38 L127.27 667.39 L127.67 667.4 L128.07 667.41 L128.48 667.41 L128.88 667.42 L129.28 667.43 L129.68 667.44 L130.08 667.45 L130.48 667.46 L130.88 667.47 L131.29 667.48 L131.69 667.49 L132.09 667.5 L132.49 667.51 L132.89 667.52 L133.29 667.53 L133.69 667.55 L134.09 667.56 L134.5 667.57 L134.9 667.58 L135.3 667.59 L135.7 667.6" stroke="#2f4fb0" stroke-width="1.3" fill="none" stroke-linejoin="round" />
<path d="M135.7 667.6 L614.4 667.8" stroke="#a3b3e0" stroke-width="1.2" fill="none" stroke-linejoin="round" />
<path d="M75.6 630.2V688.7H614.4M75.5 688.7v-5M129.5 688.7v-5M183.5 688.7v-5M237.5 688.7v-5M291.5 688.7v-5M345.5 688.7v-5M398.5 688.7v-5M452.5 688.7v-5M506.5 688.7v-5M560.5 688.7v-5M614.5 688.7v-5M75.6 688.5h5M75.6 659.5h5M75.6 630.5h5" stroke="#262626" stroke-width="1.2" fill="none"/>
<text x="75.6" y="715.1" font-size="23" text-anchor="middle" font-family='"Liberation Sans", sans-serif' fill="#111" >0.0</text>
<text x="129.48" y="715.1" font-size="23" text-anchor="middle" font-family='"Liberation Sans", sans-serif' fill="#111" >0.5</text>
<text x="183.36" y="715.1" font-size="23" text-anchor="middle" font-family='"Liberation Sans", sans-serif' fill="#111" >1.0</text>
<text x="237.24" y="715.1" font-size="23" text-anchor="middle" font-family='"Liberation Sans", sans-serif' fill="#111" >1.5</text>
<text x="291.12" y="715.1" font-size="23" text-anchor="middle" font-family='"Liberation Sans", sans-serif' fill="#111" >2.0</text>
<text x="345" y="715.1" font-size="23" text-anchor="middle" font-family='"Liberation Sans", sans-serif' fill="#111" >2.5</text>
<text x="398.88" y="715.1" font-size="23" text-anchor="middle" font-family='"Liberation Sans", sans-serif' fill="#111" >3.0</text>
<text x="452.76" y="715.1" font-size="23" text-anchor="middle" font-family='"Liberation Sans", sans-serif' fill="#111" >3.5</text>
<text x="506.64" y="715.1" font-size="23" text-anchor="middle" font-family='"Liberation Sans", sans-serif' fill="#111" >4.0</text>
<text x="560.52" y="715.1" font-size="23" text-anchor="middle" font-family='"Liberation Sans", sans-serif' fill="#111" >4.5</text>
<text x="614.4" y="715.1" font-size="23" text-anchor="middle" font-family='"Liberation Sans", sans-serif' fill="#111" >5.0</text>
<text x="67.5" y="695.3" font-size="23" text-anchor="end" font-family='"Liberation Sans", sans-serif' fill="#111" >0</text>
<text x="67.5" y="666.05" font-size="23" text-anchor="end" font-family='"Liberation Sans", sans-serif' fill="#111" >2</text>
<text x="67.5" y="636.8" font-size="23" text-anchor="end" font-family='"Liberation Sans", sans-serif' fill="#111" >4</text>
<path d="M76.2 609.4L87.8 620.8M87.8 609.4L76.2 620.8" stroke="#111" stroke-width="1.5"/>
<text x="90.8" y="622" font-size="23" font-family='"Liberation Sans", sans-serif' fill="#111" textLength="26.5" lengthAdjust="spacingAndGlyphs">10</text>
<text x="117.8" y="608.8" font-size="12.6" font-family='"Liberation Sans", sans-serif' fill="#111" textLength="13.2" lengthAdjust="spacingAndGlyphs">−9</text>
<path d="M561.2 733L572.8 744.4M572.8 733L561.2 744.4" stroke="#111" stroke-width="1.5"/>
<text x="575.8" y="745.6" font-size="23" font-family='"Liberation Sans", sans-serif' fill="#111" textLength="26.5" lengthAdjust="spacingAndGlyphs">10</text>
<text x="602.8" y="732.4" font-size="12.6" font-family='"Liberation Sans", sans-serif' fill="#111" textLength="13.2" lengthAdjust="spacingAndGlyphs">−3</text>
<text x="329" y="750.3" font-size="28.5" font-family='"Liberation Serif", serif' font-style="italic" fill="#111">t</text>
<text x="344.9" y="749" font-size="22.5" font-family='"Liberation Sans", sans-serif' fill="#111" textLength="22.8" lengthAdjust="spacingAndGlyphs">(s)</text>
<text transform="translate(36.3,661.5) rotate(-90)" font-size="24" text-anchor="middle" font-family='"Liberation Sans", sans-serif' fill="#111">s(<tspan font-family='"Liberation Serif", serif' font-style="italic" font-size="118%">t</tspan>)</text>
<rect x="487.5" y="666.4" width="4" height="4" fill="#000"/>
<rect x="492.4" y="634.2" width="87.3" height="31.3" fill="#fcfaec"/>
<text x="494.5" y="648.5" font-size="14" font-family='"Liberation Sans", sans-serif' fill="#111" textLength="79.5" lengthAdjust="spacingAndGlyphs"><tspan font-size="15.5"><tspan font-family='"Liberation Serif", serif' font-style="italic">X</tspan></tspan>: 0.003846</text>
<text x="494.5" y="663.3" font-size="14" font-family='"Liberation Sans", sans-serif' fill="#111" textLength="80" lengthAdjust="spacingAndGlyphs"><tspan font-size="15.5"><tspan font-family='"Liberation Serif", serif' font-style="italic">Y</tspan></tspan>: 1.42e−09</text>
<path d="M75.5 804.6V864M129.5 804.6V864M183.5 804.6V864M237.5 804.6V864M291.5 804.6V864M345.5 804.6V864M398.5 804.6V864M452.5 804.6V864M506.5 804.6V864M560.5 804.6V864M614.5 804.6V864M75.6 864.5H614.4M75.6 834.5H614.4M75.6 804.5H614.4" stroke="#e3e3e3" stroke-width="1" fill="none"/>
<path d="M75.6 832.4 L614.4 832.4" stroke="#e8372b" stroke-width="1.3" fill="none" stroke-linejoin="round" />
<path d="M75.8 835.3 L76.99 832.86 L78.18 830.69 L79.36 828.89 L80.55 827.34 L81.74 825.96 L82.93 824.75 L84.12 823.65 L85.3 822.65 L86.49 821.72 L87.68 820.88 L88.87 820.1 L90.06 819.39 L91.24 818.71 L92.43 818.07 L93.62 817.47 L94.81 816.94 L96 816.47 L97.18 816.08 L98.37 815.72 L99.56 815.4 L100.75 815.11 L101.94 814.85 L103.12 814.62 L104.31 814.42 L105.5 814.24 L106.69 814.08 L107.87 813.93 L109.06 813.8 L110.25 813.68 L111.44 813.57 L112.63 813.47 L113.81 813.37 L115 813.28 L116.19 813.19 L117.38 813.11 L118.57 813.04 L119.75 812.98 L120.94 812.92 L122.13 812.86 L123.32 812.81 L124.51 812.76 L125.69 812.71 L126.88 812.67 L128.07 812.64 L129.26 812.61 L130.45 812.6 L131.63 812.58 L132.82 812.57 L134.01 812.55 L135.2 812.54 L136.39 812.53 L137.57 812.52 L138.76 812.5 L139.95 812.49 L141.14 812.48 L142.33 812.47 L143.51 812.46 L144.7 812.45 L145.89 812.45 L147.08 812.44 L148.27 812.43 L149.45 812.43 L150.64 812.42 L151.83 812.42 L153.02 812.41 L154.21 812.41 L155.39 812.41 L156.58 812.4 L157.77 812.4 L158.96 812.4 L160.15 812.4 L161.33 812.4 L162.52 812.4 L163.71 812.4 L164.9 812.4 L166.08 812.4 L167.27 812.4 L168.46 812.4 L169.65 812.4 L170.84 812.4 L172.02 812.4 L173.21 812.4 L174.4 812.4 L175.59 812.4 L176.78 812.4 L177.96 812.4 L179.15 812.4 L180.34 812.4 L181.53 812.4 L182.72 812.4 L183.9 812.4 L185.09 812.4 L186.28 812.4 L187.47 812.4 L188.66 812.4 L189.84 812.4 L191.03 812.4 L192.22 812.4 L193.41 812.4 L194.6 812.4 L195.78 812.4 L196.97 812.4 L198.16 812.4 L199.35 812.4 L200.54 812.4 L201.72 812.4 L202.91 812.4 L204.1 812.4 L205.29 812.4 L206.48 812.4 L207.66 812.4 L208.85 812.4 L210.04 812.4 L211.23 812.4 L212.42 812.4 L213.6 812.4 L214.79 812.4 L215.98 812.4 L217.17 812.4 L218.36 812.4 L219.54 812.4 L220.73 812.4 L221.92 812.4 L223.11 812.4 L224.29 812.4 L225.48 812.4 L226.67 812.4 L227.86 812.4 L229.05 812.4 L230.23 812.4 L231.42 812.4 L232.61 812.4 L233.8 812.4 L234.99 812.4 L236.17 812.4 L237.36 812.4 L238.55 812.4 L239.74 812.4 L240.93 812.4 L242.11 812.4 L243.3 812.4 L244.49 812.4 L245.68 812.4 L246.87 812.4 L248.05 812.4 L249.24 812.4 L250.43 812.4 L251.62 812.4 L252.81 812.4 L253.99 812.4 L255.18 812.4 L256.37 812.4 L257.56 812.4 L258.75 812.4 L259.93 812.4 L261.12 812.4 L262.31 812.4 L263.5 812.4 L264.69 812.4 L265.87 812.4 L267.06 812.4 L268.25 812.4 L269.44 812.4 L270.63 812.4 L271.81 812.4 L273 812.4 L274.19 812.4 L275.38 812.4 L276.57 812.4 L277.75 812.4 L278.94 812.4 L280.13 812.4 L281.32 812.4 L282.51 812.4 L283.69 812.4 L284.88 812.4 L286.07 812.4 L287.26 812.4 L288.44 812.4 L289.63 812.4 L290.82 812.4 L292.01 812.4 L293.2 812.4 L294.38 812.4 L295.57 812.4 L296.76 812.4 L297.95 812.4 L299.14 812.4 L300.32 812.4 L301.51 812.4 L302.7 812.4 L303.89 812.4 L305.08 812.4 L306.26 812.4 L307.45 812.4 L308.64 812.4 L309.83 812.4 L311.02 812.4 L312.2 812.4 L313.39 812.4 L314.58 812.4 L315.77 812.4 L316.96 812.4 L318.14 812.4 L319.33 812.4 L320.52 812.4 L321.71 812.4 L322.9 812.4 L324.08 812.4 L325.27 812.4 L326.46 812.4 L327.65 812.4 L328.84 812.4 L330.02 812.4 L331.21 812.4 L332.4 812.4 L333.59 812.4 L334.78 812.4 L335.96 812.4 L337.15 812.4 L338.34 812.4 L339.53 812.4 L340.72 812.4 L341.9 812.4 L343.09 812.4 L344.28 812.4 L345.47 812.4 L346.65 812.4 L347.84 812.4 L349.03 812.4 L350.22 812.4 L351.41 812.4 L352.59 812.4 L353.78 812.4 L354.97 812.4 L356.16 812.4 L357.35 812.4 L358.53 812.4 L359.72 812.4 L360.91 812.4 L362.1 812.4 L363.29 812.4 L364.47 812.4 L365.66 812.4 L366.85 812.4 L368.04 812.4 L369.23 812.4 L370.41 812.4 L371.6 812.4 L372.79 812.4 L373.98 812.4 L375.17 812.4 L376.35 812.4 L377.54 812.4 L378.73 812.4 L379.92 812.4 L381.11 812.4 L382.29 812.4 L383.48 812.4 L384.67 812.4 L385.86 812.4 L387.05 812.4 L388.23 812.4 L389.42 812.4 L390.61 812.4 L391.8 812.4 L392.99 812.4 L394.17 812.4 L395.36 812.4 L396.55 812.4 L397.74 812.4 L398.93 812.4 L400.11 812.4 L401.3 812.4 L402.49 812.4 L403.68 812.4 L404.86 812.4 L406.05 812.4 L407.24 812.4 L408.43 812.4 L409.62 812.4 L410.8 812.4 L411.99 812.4 L413.18 812.4 L414.37 812.4 L415.56 812.4 L416.74 812.4 L417.93 812.4 L419.12 812.4 L420.31 812.4 L421.5 812.4 L422.68 812.4 L423.87 812.4 L425.06 812.4 L426.25 812.4 L427.44 812.4 L428.62 812.4 L429.81 812.4 L431 812.4" stroke="#2f4fb0" stroke-width="1.3" fill="none" stroke-linejoin="round" />
<path d="M75.6 804.6V864H614.4M75.5 864v-5M129.5 864v-5M183.5 864v-5M237.5 864v-5M291.5 864v-5M345.5 864v-5M398.5 864v-5M452.5 864v-5M506.5 864v-5M560.5 864v-5M614.5 864v-5M75.6 864.5h5M75.6 834.5h5M75.6 804.5h5" stroke="#262626" stroke-width="1.2" fill="none"/>
<text x="75.6" y="890.6" font-size="23" text-anchor="middle" font-family='"Liberation Sans", sans-serif' fill="#111" >0.0</text>
<text x="129.48" y="890.6" font-size="23" text-anchor="middle" font-family='"Liberation Sans", sans-serif' fill="#111" >0.5</text>
<text x="183.36" y="890.6" font-size="23" text-anchor="middle" font-family='"Liberation Sans", sans-serif' fill="#111" >1.0</text>
<text x="237.24" y="890.6" font-size="23" text-anchor="middle" font-family='"Liberation Sans", sans-serif' fill="#111" >1.5</text>
<text x="291.12" y="890.6" font-size="23" text-anchor="middle" font-family='"Liberation Sans", sans-serif' fill="#111" >2.0</text>
<text x="345" y="890.6" font-size="23" text-anchor="middle" font-family='"Liberation Sans", sans-serif' fill="#111" >2.5</text>
<text x="398.88" y="890.6" font-size="23" text-anchor="middle" font-family='"Liberation Sans", sans-serif' fill="#111" >3.0</text>
<text x="452.76" y="890.6" font-size="23" text-anchor="middle" font-family='"Liberation Sans", sans-serif' fill="#111" >3.5</text>
<text x="506.64" y="890.6" font-size="23" text-anchor="middle" font-family='"Liberation Sans", sans-serif' fill="#111" >4.0</text>
<text x="560.52" y="890.6" font-size="23" text-anchor="middle" font-family='"Liberation Sans", sans-serif' fill="#111" >4.5</text>
<text x="614.4" y="890.6" font-size="23" text-anchor="middle" font-family='"Liberation Sans", sans-serif' fill="#111" >5.0</text>
<path d="M38.2 862.9h13.9" stroke="#111" stroke-width="1.35"/>
<text x="67.5" y="870.8" font-size="23" text-anchor="end" font-family='"Liberation Sans", sans-serif' fill="#111" >2</text>
<text x="67.5" y="841.1" font-size="23" text-anchor="end" font-family='"Liberation Sans", sans-serif' fill="#111" >0</text>
<text x="67.5" y="811.4" font-size="23" text-anchor="end" font-family='"Liberation Sans", sans-serif' fill="#111" >2</text>
<path d="M76.2 783.2L87.8 794.6M87.8 783.2L76.2 794.6" stroke="#111" stroke-width="1.5"/>
<text x="90.8" y="795.8" font-size="23" font-family='"Liberation Sans", sans-serif' fill="#111" textLength="26.5" lengthAdjust="spacingAndGlyphs">10</text>
<text x="117.8" y="782.6" font-size="12.6" font-family='"Liberation Sans", sans-serif' fill="#111" textLength="13.2" lengthAdjust="spacingAndGlyphs">−3</text>
<path d="M564.5 905.8L576.1 917.2M576.1 905.8L564.5 917.2" stroke="#111" stroke-width="1.5"/>
<text x="579.1" y="918.4" font-size="23" font-family='"Liberation Sans", sans-serif' fill="#111" textLength="26.5" lengthAdjust="spacingAndGlyphs">10</text>
<text x="606.1" y="905.2" font-size="12.6" font-family='"Liberation Sans", sans-serif' fill="#111" textLength="13.2" lengthAdjust="spacingAndGlyphs">−3</text>
<text x="328.6" y="924.8" font-size="28.5" font-family='"Liberation Serif", serif' font-style="italic" fill="#111">t</text>
<text x="344.5" y="923.5" font-size="22.5" font-family='"Liberation Sans", sans-serif' fill="#111" textLength="22.8" lengthAdjust="spacingAndGlyphs">(s)</text>
<text x="348" y="962.9" font-size="23" text-anchor="middle" font-family='"Liberation Sans", sans-serif' fill="#111" >(b)</text>
<rect x="431" y="765" width="256" height="50" fill="#fff"/>
<path d="M436 781.5H458.7" stroke="#2f4fb0" stroke-width="1.5"/>
<path d="M436 809.2H458.7" stroke="#e8372b" stroke-width="1.5"/>
<text x="464.5" y="788.5" font-size="22.5" text-anchor="start" font-family='"Liberation Sans", sans-serif' fill="#111" textLength="218.5" lengthAdjust="spacingAndGlyphs">Control law value: <tspan font-family='"Liberation Serif", serif' font-style="italic">u</tspan>(<tspan font-family='"Liberation Serif", serif' font-style="italic" font-size="118%">t</tspan>)</text>
<text x="464.5" y="816" font-size="22.5" text-anchor="start" font-family='"Liberation Sans", sans-serif' fill="#111" textLength="179" lengthAdjust="spacingAndGlyphs">Disturbance: <tspan font-family='"Liberation Serif", serif' font-style="italic">d</tspan><tspan font-size="15" dy="4" font-family='"Liberation Serif", serif' font-style="italic">Ed</tspan><tspan dy="-4">(</tspan><tspan font-family='"Liberation Serif", serif' font-style="italic" font-size="118%">t</tspan>)</text>
<text transform="translate(18.5,842.6) rotate(-90)" font-size="24" text-anchor="middle" font-family='"Liberation Sans", sans-serif' fill="#111" textLength="105" lengthAdjust="spacingAndGlyphs"><tspan font-family='"Liberation Serif", serif' font-style="italic">u</tspan>(<tspan font-family='"Liberation Serif", serif' font-style="italic" font-size="118%">t</tspan>), <tspan font-family='"Liberation Serif", serif' font-style="italic">d</tspan><tspan font-size="16" dy="4" font-family='"Liberation Serif", serif' font-style="italic">Ed</tspan><tspan dy="-4">(</tspan><tspan font-family='"Liberation Serif", serif' font-style="italic" font-size="118%">t</tspan>)</text>
<rect x="221.05" y="830.25" width="3.5" height="3.5" fill="#000"/>
<rect x="225.3" y="826.1" width="81.9" height="33.2" fill="#fcfaec"/>
<text x="227.3" y="840.9" font-size="14" font-family='"Liberation Sans", sans-serif' fill="#111" textLength="79.5" lengthAdjust="spacingAndGlyphs"><tspan font-size="15.5"><tspan font-family='"Liberation Serif", serif' font-style="italic">X</tspan></tspan>: 0.001369</text>
<text x="227.3" y="855.7" font-size="14" font-family='"Liberation Sans", sans-serif' fill="#111" textLength="68" lengthAdjust="spacingAndGlyphs"><tspan font-size="15.5"><tspan font-family='"Liberation Serif", serif' font-style="italic">Y</tspan></tspan>: 0.00015</text>
<rect x="341.9" y="811.2" width="4.4" height="3.6" fill="#000"/>
<rect x="345.9" y="814.8" width="84" height="31.1" fill="#fcfaec"/>
<text x="348.3" y="827.5" font-size="14" font-family='"Liberation Sans", sans-serif' fill="#111" textLength="79.5" lengthAdjust="spacingAndGlyphs"><tspan font-size="15.5"><tspan font-family='"Liberation Serif", serif' font-style="italic">X</tspan></tspan>: 0.002491</text>
<text x="348.3" y="841.9" font-size="14" font-family='"Liberation Sans", sans-serif' fill="#111" textLength="79.5" lengthAdjust="spacingAndGlyphs"><tspan font-size="15.5"><tspan font-family='"Liberation Serif", serif' font-style="italic">Y</tspan></tspan>: 0.001488</text>
</svg>
</body></html>
